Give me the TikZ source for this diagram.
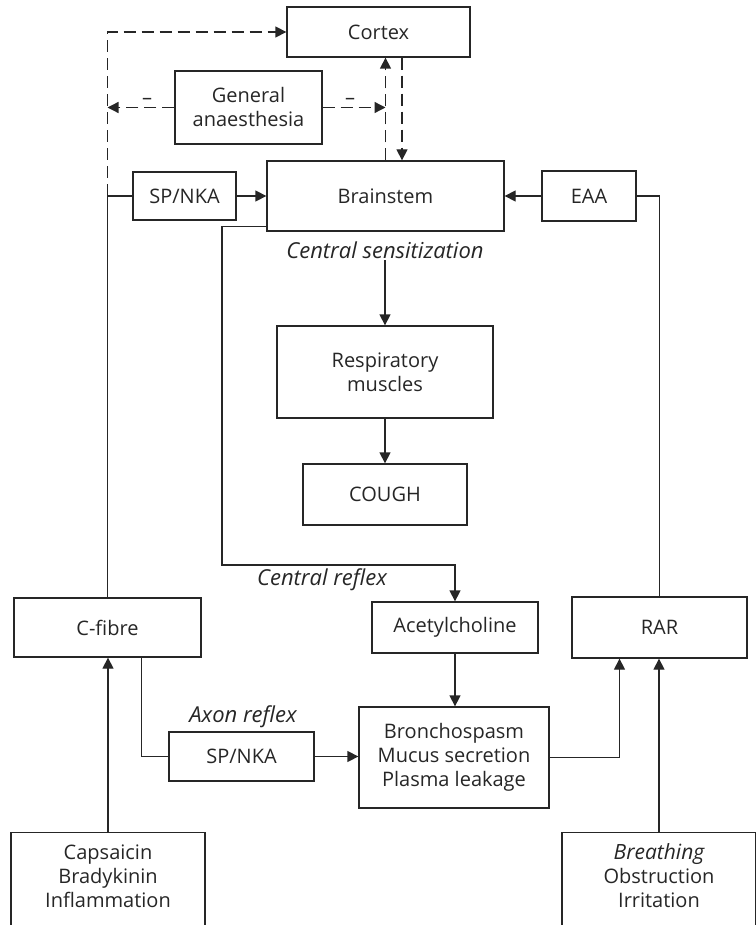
\documentclass[tikz,border=0pt]{standalone}
\usepackage{fontspec}
\setmainfont{Open Sans}
\usetikzlibrary{arrows.meta}
\begin{document}
\begin{tikzpicture}[x=1pt,y=-1pt,line width=1.3pt,color=black!85,
    box/.style={draw,align=center,inner sep=0pt},
    lbl/.style={font=\fontsize{22}{24}\selectfont\itshape,inner sep=1pt},
    arr/.style={-{Triangle[length=11pt,width=11pt]}},
    dsh/.style={dash pattern=on 12pt off 6pt}]
    \tikzstyle{every node}+=[font=\fontsize{20}{24}\selectfont]
    \useasboundingbox (0,0) rectangle (755,925);
    \node[box,minimum width=183,minimum height=50] (cortex) at (378.5,32) {Cortex};
    \node[box,minimum width=147,minimum height=73] (gen) at (248.5,107.5) {General\\anaesthesia};
    \node[box,minimum width=103,minimum height=48] (spnka1) at (184.5,196) {SP/NKA};
    \node[box,minimum width=237,minimum height=70] (brainstem) at (385.5,196) {Brainstem};
    \node[box,minimum width=94,minimum height=50] (eaa) at (589,196) {EAA};
    \node[lbl] (sens) at (385,250) {Central sensitization};
    \node[box,minimum width=216,minimum height=92] (resp) at (385,372) {Respiratory\\muscles};
    \node[box,minimum width=164,minimum height=61] (cough) at (385,494.5) {COUGH};
    \node[lbl] (crefl) at (322,580) {Central reflex};
    \node[box,minimum width=187,minimum height=59] (cfibre) at (107.5,627.5) {C-fibre};
    \node[box,minimum width=166,minimum height=51] (ach) at (455,627.5) {Acetylcholine};
    \node[box,minimum width=175,minimum height=61] (rar) at (659.5,627.5) {RAR};
    \node[lbl] (axon) at (243,717) {Axon reflex};
    \node[box,minimum width=145,minimum height=49] (spnka2) at (241.5,756.5) {SP/NKA};
    \node[box,minimum width=190,minimum height=101] (broncho) at (454,757.5) {Bronchospasm\\Mucus secretion\\Plasma leakage};
    \node[box,minimum width=194,minimum height=110,anchor=north] (caps) at (108,832) {};
    \node[align=center] (capstxt) at (108,876) {Capsaicin\\Bradykinin\\Inflammation};
    \node[box,minimum width=194,minimum height=110,anchor=north] (brth) at (659,832) {};
    \node[align=center] (brthtxt) at (659,876) {{\fontsize{21}{24}\selectfont\itshape Breathing}\\Obstruction\\Irritation};
    \node (minusl) at (147,101) {--};
    \node (minusr) at (350,101) {--};
    \coordinate (cj) at (cfibre.north |- spnka1.west);
    \coordinate (crl) at (222,565);
    \draw (cfibre.north) -- (cj) -- (spnka1.west);
    \draw[dsh,arr] (cj) |- (cortex.west);
    \draw[dsh,arr] (gen.west) -- (gen.west -| cj);
    \draw[dsh,arr] (gen.east) -- (gen.east -| brainstem.north);
    \draw[dsh,arr] (brainstem.north) -- (brainstem.north |- cortex.south);
    \draw[dsh,arr] ([xshift=23.5pt]cortex.south) -- ([xshift=16.5pt]brainstem.north);
    \draw[arr] (spnka1) -- (brainstem);
    \draw[arr] (eaa) -- (brainstem);
    \draw (rar.north) |- (eaa.east);
    \draw[arr] ([yshift=5pt]brainstem.south west) -| (crl) -| (ach.north);
    \draw[arr] (sens) -- (resp);
    \draw[arr] (resp) -- (cough);
    \draw[arr] (ach.south) -- (ach.south |- broncho.north);
    \draw ([xshift=34pt]cfibre.south) |- (spnka2.west);
    \draw[arr] (spnka2.east) -- (spnka2.east -| broncho.west);
    \draw[arr] (broncho.east) -| ([xshift=-40pt]rar.south);
    \draw[arr] (caps.north) -- (caps.north |- cfibre.south);
    \draw[arr] (brth.north) -- (brth.north |- rar.south);
\end{tikzpicture}
\end{document}
